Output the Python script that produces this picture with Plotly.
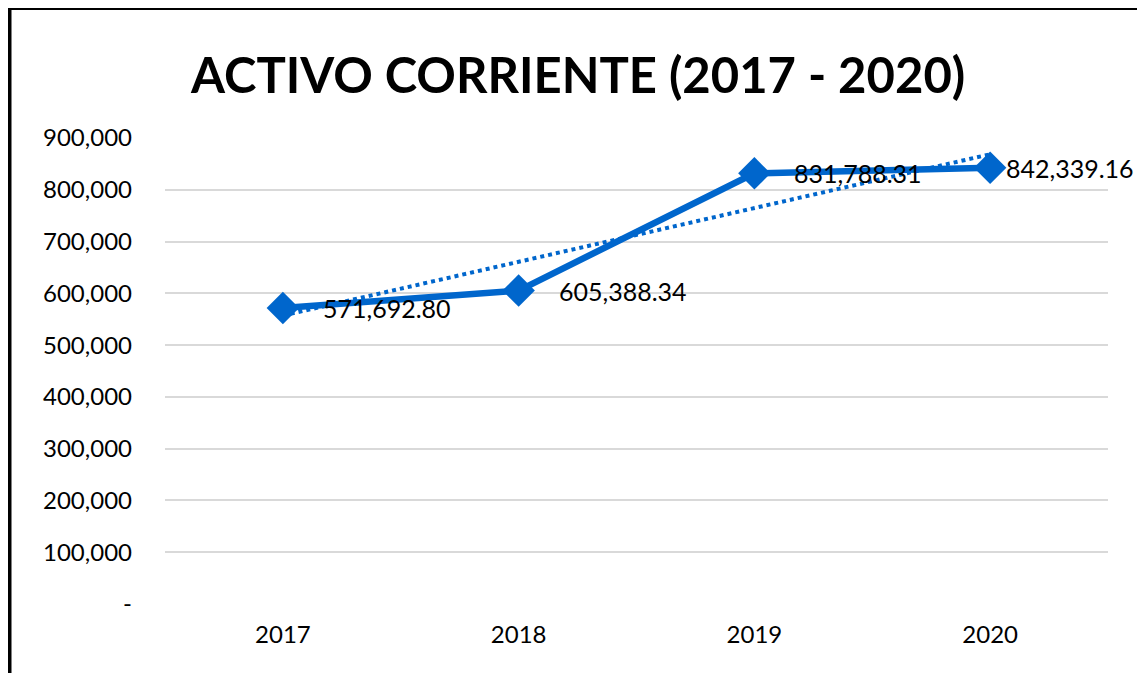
import numpy as np
import plotly.graph_objects as go

years = ["2017", "2018", "2019", "2020"]
values = [571692.80, 605388.34, 831788.31, 842339.16]
label_texts = ["571,692.80", "605,388.34", "831,788.31", "842,339.16"]
label_shift = [38, 38, 38, 14]
ytick_vals = [0, 100000, 200000, 300000, 400000, 500000, 600000, 700000, 800000, 900000]
ytick_text = ["-", "100,000", "200,000", "300,000", "400,000", "500,000",
              "600,000", "700,000", "800,000", "900,000"]

xpos = np.arange(1, len(years) + 1)
slope, intercept = np.polyfit(xpos, values, 1)
trend = slope * xpos + intercept

BLUE = "#0066CC"
FONT = "Lato"

fig = go.Figure()
fig.add_trace(go.Scatter(
    x=xpos, y=trend, mode="lines",
    line=dict(color=BLUE, width=4, dash="dot"),
    hoverinfo="skip", showlegend=False,
))
fig.add_trace(go.Scatter(
    x=xpos, y=values, mode="lines+markers",
    line=dict(color=BLUE, width=6.5),
    marker=dict(symbol="diamond", size=25, color=BLUE),
    showlegend=False,
))

for x, v, t, s in zip(xpos, values, label_texts, label_shift):
    fig.add_annotation(x=x, y=v, text=t, showarrow=False, xanchor="left",
                       yanchor="middle", xshift=s,
                       font=dict(family=FONT, size=25, color="#000000"))

fig.add_annotation(xref="paper", yref="paper", x=0.437, y=1.137,
                   text="<b>ACTIVO CORRIENTE (2017 - 2020)</b>", showarrow=False,
                   xanchor="center", yanchor="middle",
                   font=dict(family=FONT, size=49, color="#000000"))

# chart border
fig.add_shape(type="line", xref="paper", yref="paper", x0=-0.1649, x1=-0.1649,
              y0=-0.3, y1=1.279, line=dict(color="#000000", width=4))
fig.add_shape(type="line", xref="paper", yref="paper", x0=-0.1649, x1=1.036,
              y0=1.279, y1=1.279, line=dict(color="#000000", width=4))
fig.add_shape(type="line", xref="paper", yref="paper", x0=1.0365, x1=1.0365,
              y0=-0.3, y1=1.279, line=dict(color="#808080", width=2))

fig.update_layout(
    width=1145, height=673,
    margin=dict(l=157, r=45, t=130, b=77),
    paper_bgcolor="white", plot_bgcolor="white",
    font=dict(family=FONT, size=20, color="#000000"),
    xaxis=dict(range=[0.5, 4.5], tickvals=list(xpos), ticktext=years,
               showgrid=False, zeroline=False, showline=False, ticks="",
               ticklabelstandoff=14, tickfont=dict(size=24), fixedrange=True),
    yaxis=dict(range=[0, 900000], tickvals=ytick_vals, ticktext=ytick_text,
               showgrid=True, gridcolor="#D9D9D9", gridwidth=2,
               zeroline=False, showline=False, ticks="",
               ticklabelstandoff=32, tickfont=dict(size=24), fixedrange=True),
)

fig.write_html("out.html")
